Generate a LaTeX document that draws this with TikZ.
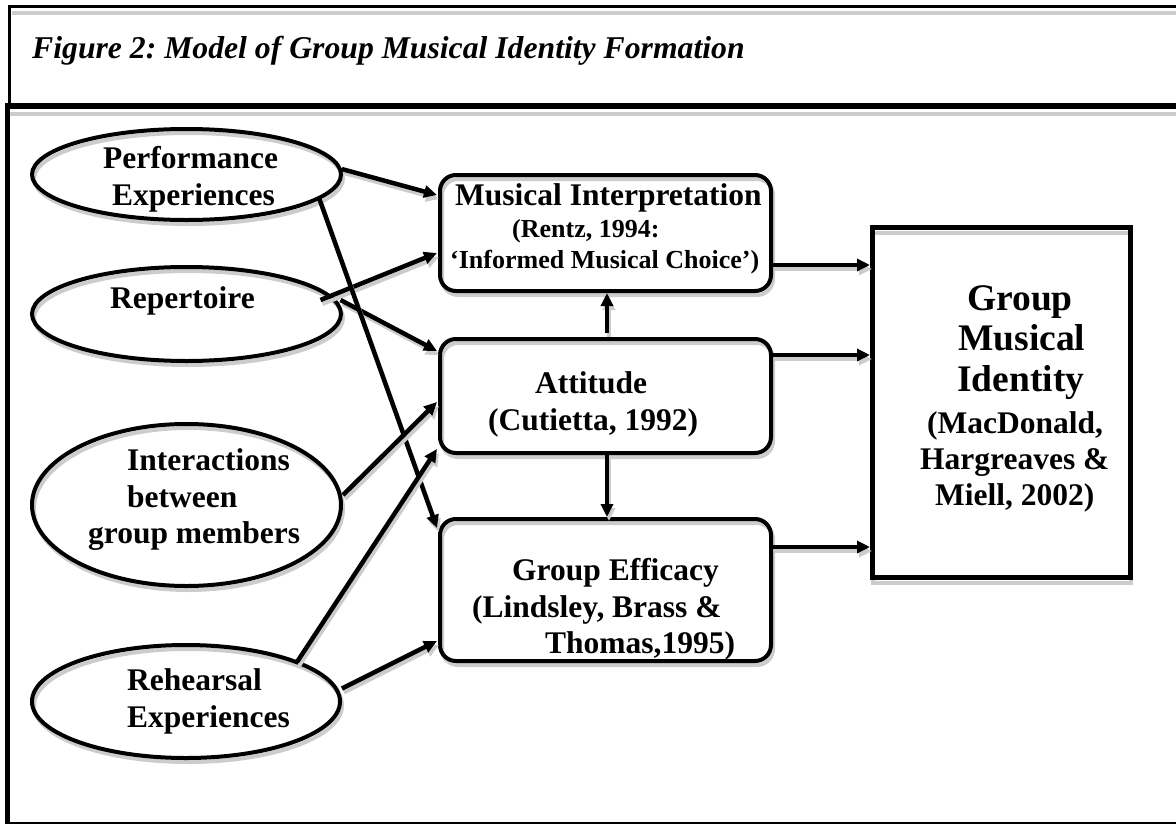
\documentclass[tikz,border=0pt]{standalone}
\usepackage{fontspec}
\setmainfont{Liberation Serif}
\frenchspacing
\usetikzlibrary{arrows.meta,shapes.geometric,calc}
\begin{document}
\begin{tikzpicture}[x=1pt,y=-1pt,
  shd/.style={preaction={draw=gray!40, line width=4pt, transform canvas={shift={(2pt,-4pt)}}}},
  ell/.style={ellipse, draw, line width=4pt, inner sep=0pt, shd},
  rbox/.style={rectangle, rounded corners=16pt, draw, line width=4pt, inner sep=0pt, shd},
  sbox/.style={rectangle, draw, line width=5pt, inner sep=0pt,
    preaction={draw=gray!40, line width=4pt, transform canvas={shift={(0pt,-5pt)}}}},
  txt/.style={anchor=base west, inner sep=0pt, font=\bfseries\fontsize{31.5}{36}\selectfont},
  cite/.style={anchor=base west, inner sep=0pt, font=\bfseries\fontsize{26}{30}\selectfont},
  big/.style={anchor=base west, inner sep=0pt, font=\bfseries\fontsize{37.5}{42}\selectfont},
  arr/.style={line width=4.5pt, -{Triangle[length=13pt,width=12pt]},
    preaction={draw=gray!40, line width=4pt, transform canvas={shift={(2pt,-4pt)}}}},
  frame/.style={draw=black},
  fshadow/.style={draw=gray!40, line width=4pt}
]
\useasboundingbox (0,0) rectangle (1176,825);

% frames
\draw[fshadow] (12,13) -- (1176,13);
\draw[fshadow] (10,114) -- (1176,114);
\draw[frame, line width=3pt] (9,106) -- (9,6) -- (1176,6);
\draw[frame, line width=6pt] (5,106) -- (1176,106);
\draw[frame, line width=5pt] (7,104) -- (7,823);
\draw[frame, line width=2.5pt] (5,823) -- (1176,823);

\node[anchor=base west, inner sep=0pt, font=\bfseries\itshape\fontsize{31.7}{36}\selectfont] (title) at (32,58) {Figure 2: Model of Group Musical Identity Formation};

% ellipses
\node[ell, minimum width=309pt, minimum height=91pt] (perf) at (186.5,174.5) {};
\node[ell, minimum width=309pt, minimum height=94pt] (rep) at (186.5,314) {};
\node[ell, minimum width=309pt, minimum height=162pt] (int) at (186.5,505) {};
\node[ell, minimum width=308pt, minimum height=113pt] (reh) at (186,701.5) {};

% boxes
\node[rbox, minimum width=331pt, minimum height=116pt] (mi) at (605.5,233) {};
\node[rbox, minimum width=331pt, minimum height=114pt] (att) at (605.5,396) {};
\node[rbox, minimum width=331pt, minimum height=142pt] (ge) at (605.5,590) {};
\node[sbox, minimum width=258pt, minimum height=350pt] (gmi) at (1001.5,402.5) {};

% texts
\node[txt] (perf1) at (103,168) {Performance};
\node[txt] (perf2) at (112,205) {Experiences};
\node[txt] (rep1) at (110,308) {Repertoire};
\node[txt] (int1) at (127,470) {Interactions};
\node[txt] (int2) at (127,507) {between};
\node[txt] (int3) at (88,543) {group members};
\node[txt] (reh1) at (127,690) {Rehearsal};
\node[txt] (reh2) at (127,727) {Experiences};
\node[txt] (mi1) at (455,205) {Musical Interpretation};
\node[cite] (mi2) at (512,237) {(Rentz, 1994:};
\node[cite] (mi3) at (450,268) {‘Informed Musical Choice’)};
\node[txt] (att1) at (535,393) {Attitude};
\node[txt] (att2) at (488,430) {(Cutietta, 1992)};
\node[txt] (ge1) at (512,580) {Group Efficacy};
\node[txt] (ge2) at (472,617) {(Lindsley, Brass \&};
\node[txt] (ge3) at (545,653) {Thomas,1995)};
\node[big] (gmi1) at (967,310) {Group};
\node[big] (gmi2) at (958,350) {Musical};
\node[big] (gmi3) at (957,391) {Identity};
\node[txt] (gmi4) at (927,433) {(MacDonald,};
\node[txt] (gmi5) at (920,469) {Hargreaves \&};
\node[txt] (gmi6) at (935,505) {Miell, 2002)};

% connectors
\draw[arr] (perf.2) -- ($(mi.west)+(-1,-38)$);
\draw[arr] ($(rep.center)+(134,-14)$) -- ($(mi.west)+(-1,20)$);
\draw[arr] ($(rep.center)+(154,-14)$) -- ($(att.west)+(-1,-45)$);
\draw[arr] ($(perf.center)+(132,22)$) -- ($(ge.west)+(-1,-62)$);
\draw[arr] ($(int.east)+(0,-10)$) -- ($(att.west)+(-1,6)$);
\draw[arr] ($(reh.center)+(111,-39.5)$) -- ($(att.west)+(-1,53)$);
\draw[arr] ($(reh.east)+(0,-13)$) -- ($(ge.west)+(-1,51)$);
\draw[arr, line width=4pt] ($(att.north)+(1.5,-4)$) -- ($(mi.south)+(1.5,0)$);
\draw[arr, line width=4pt] ($(att.south)+(1.5,0)$) -- ($(ge.north)+(1.5,0)$);
\draw[arr] ($(mi.east)+(0,32)$) coordinate (a1) -- (a1 -| gmi.west);
\draw[arr] ($(att.east)+(0,-41)$) coordinate (a2) -- (a2 -| gmi.west);
\draw[arr] ($(ge.east)+(0,-43)$) coordinate (a3) -- (a3 -| gmi.west);
\end{tikzpicture}
\end{document}
